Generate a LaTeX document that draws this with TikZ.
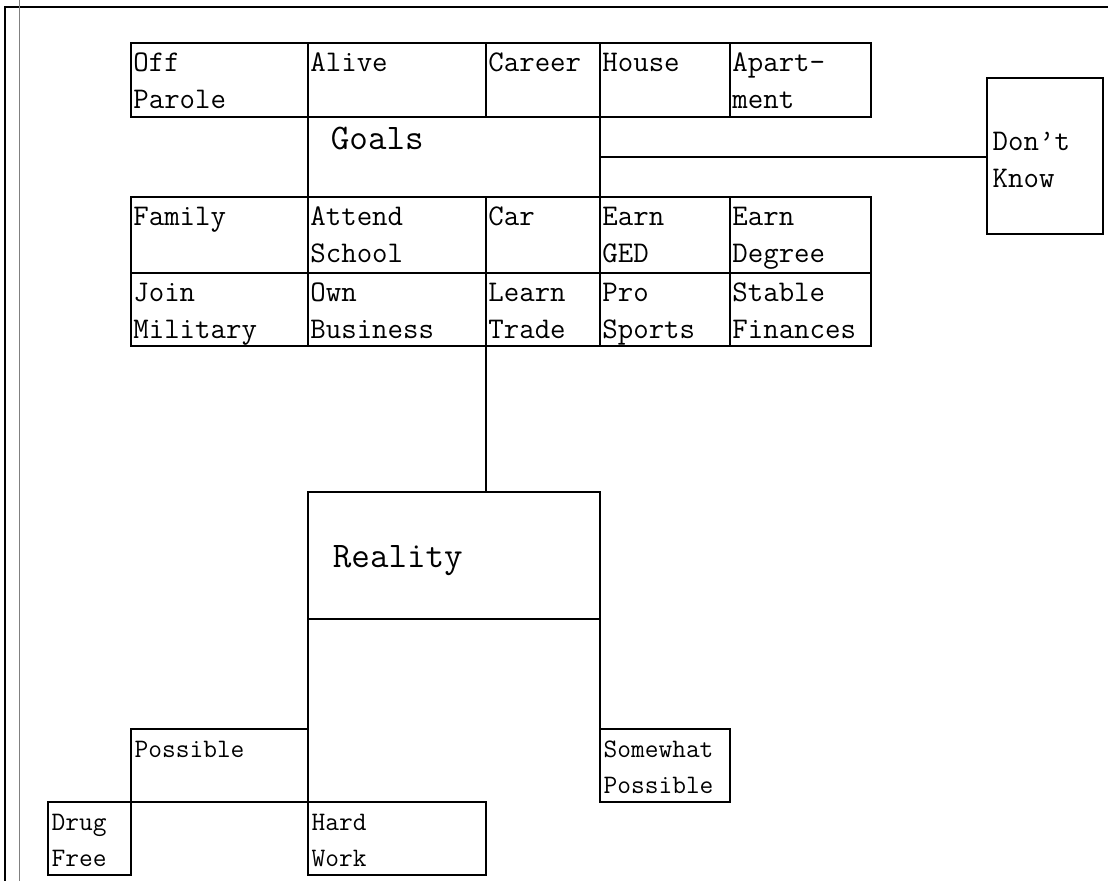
\documentclass[tikz,border=0pt]{standalone}
\usepackage{fontspec}
\usetikzlibrary{fit}
\tikzset{
  cell/.style={draw, line width=1pt, inner sep=0pt, outer sep=0pt},
  celltext/.style={anchor=north west, align=left, inner sep=1.6pt, font=\ttfamily\fontsize{22.5}{27.75}\selectfont},
  lowtext/.style={anchor=north west, align=left, inner sep=2.5pt, font=\ttfamily\fontsize{20}{27}\selectfont},
  bigtext/.style={anchor=base west, inner sep=0pt, font=\ttfamily\fontsize{27}{30}\selectfont},
  wire/.style={line width=1.2pt},
}
\begin{document}
\begin{tikzpicture}[x=0.75pt,y=0.75pt,yscale=-1,xscale=1]
        \useasboundingbox (0,0) rectangle (1108,881);
        % page frame
        \draw [line width=1.5pt] (5,881) -- (5,7) -- (1108,7);
        \draw [gray, line width=0.6pt] (19,0) -- (19,881);

        % Goals row 1
        \node [cell, fit={(131,43) (308,117)}] (offp) {};
        \node [cell, fit={(308,43) (486,117)}] (alive) {};
        \node [cell, fit={(486,43) (600,117)}] (career) {};
        \node [cell, fit={(600,43) (730,117)}] (house) {};
        \node [cell, fit={(730,43) (871,117)}] (apart) {};
        \node [celltext] (offp-t) at (offp.north west) {\strut Off\\Parole};
        \node [celltext] (alive-t) at (alive.north west) {\strut Alive};
        \node [celltext] (career-t) at (career.north west) {\strut Career};
        \node [celltext] (house-t) at (house.north west) {\strut House};
        \node [celltext] (apart-t) at (apart.north west) {\strut Apart-\\ment};

        % Goals middle
        \node [cell, fit={(308,117) (600,197)}] (goals) {};
        \node [bigtext] (goals-t) at ([xshift=17pt,yshift=24.75pt]goals.north west) {Goals};

        % Goals row 2
        \node [cell, fit={(131,197) (308,273)}] (family) {};
        \node [cell, fit={(308,197) (486,273)}] (school) {};
        \node [cell, fit={(486,197) (600,273)}] (car) {};
        \node [cell, fit={(600,197) (730,273)}] (ged) {};
        \node [cell, fit={(730,197) (871,273)}] (degree) {};
        \node [celltext] (family-t) at (family.north west) {\strut Family};
        \node [celltext] (school-t) at (school.north west) {\strut Attend\\School};
        \node [celltext] (car-t) at (car.north west) {\strut Car};
        \node [celltext] (ged-t) at (ged.north west) {\strut Earn\\GED};
        \node [celltext] (degree-t) at (degree.north west) {\strut Earn\\Degree};

        % Goals row 3
        \node [cell, fit={(131,273) (308,346)}] (military) {};
        \node [cell, fit={(308,273) (486,346)}] (business) {};
        \node [cell, fit={(486,273) (600,346)}] (trade) {};
        \node [cell, fit={(600,273) (730,346)}] (sports) {};
        \node [cell, fit={(730,273) (871,346)}] (finances) {};
        \node [celltext] (military-t) at (military.north west) {\strut Join\\Military};
        \node [celltext] (business-t) at (business.north west) {\strut Own\\Business};
        \node [celltext] (trade-t) at (trade.north west) {\strut Learn\\Trade};
        \node [celltext] (sports-t) at (sports.north west) {\strut Pro\\Sports};
        \node [celltext] (finances-t) at (finances.north west) {\strut Stable\\Finances};

        % Don't know
        \node [cell, fit={(987,78) (1103,234)}] (dunno) {};
        \node [celltext] (dunno-t) at ([xshift=2.5pt,yshift=33.5pt]dunno.north west) {\strut Don’t\\Know};

        % Reality
        \node [cell, fit={(308,492) (600,619)}] (reality) {};
        \node [bigtext] (reality-t) at ([xshift=18.5pt,yshift=56.25pt]reality.north west) {Reality};

        % bottom boxes
        \node [cell, fit={(131,729) (308,802)}] (possible) {};
        \node [cell, fit={(600,729) (730,802)}] (somewhat) {};
        \node [cell, fit={(48,802) (131,875)}] (drugfree) {};
        \node [cell, fit={(308,802) (486,875)}] (hardwork) {};
        \node [lowtext] (possible-t) at (possible.north west) {\strut Possible};
        \node [lowtext] (somewhat-t) at (somewhat.north west) {\strut Somewhat\\Possible};
        \node [lowtext] (drugfree-t) at (drugfree.north west) {\strut Drug\\Free};
        \node [lowtext] (hardwork-t) at (hardwork.north west) {\strut Hard\\Work};

        % connectors
        \draw [wire] (goals.east) -- (goals.east -| dunno.west);
        \draw [wire] (trade.south west) -- (trade.south west |- reality.north);
        \draw [wire] (reality.south west) -- (hardwork.north west);
        \draw [wire] (reality.south east) -- (somewhat.north west);

    \end{tikzpicture}
\end{document}
